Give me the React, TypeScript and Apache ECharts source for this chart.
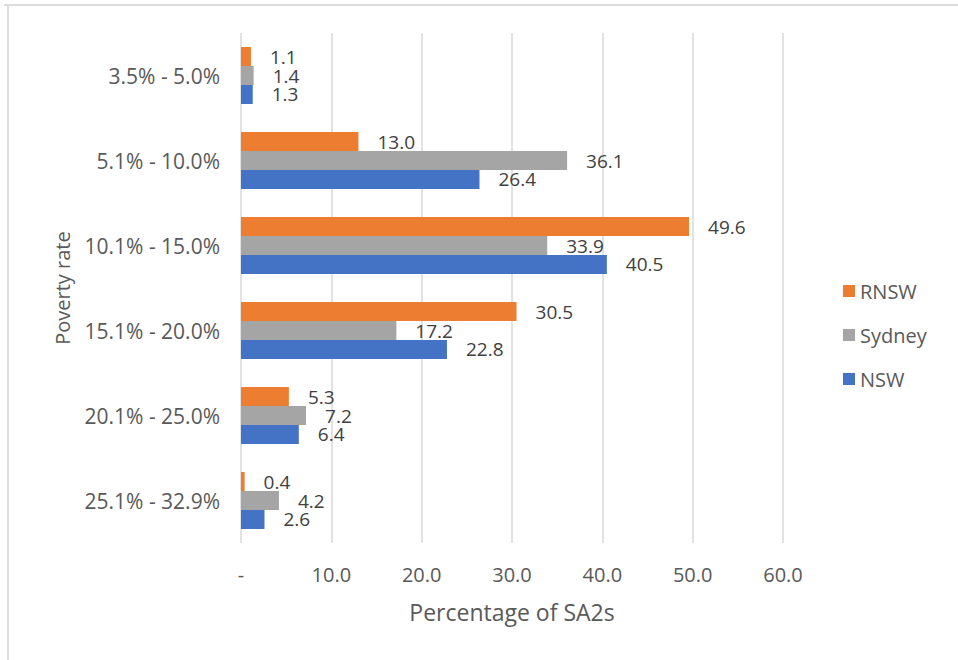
import React, { useEffect, useRef } from "react";
import * as echarts from "echarts";

const categories = ["3.5% - 5.0%", "5.1% - 10.0%", "10.1% - 15.0%", "15.1% - 20.0%", "20.1% - 25.0%", "25.1% - 32.9%"];
const rnsw = [1.1, 13.0, 49.6, 30.5, 5.3, 0.4];
const sydney = [1.4, 36.1, 33.9, 17.2, 7.2, 4.2];
const nsw = [1.3, 26.4, 40.5, 22.8, 6.4, 2.6];
const seriesNames = ["RNSW", "Sydney", "NSW"];
const colors = ["#ED7D31", "#A5A5A5", "#4472C4"];

const FONT = "'Open Sans', Lato, sans-serif";

export default function App() {
  const ref = useRef<HTMLDivElement>(null);
  useEffect(() => {
    const chart = echarts.init(ref.current!, null, { renderer: "svg" });
    const data = [rnsw, sydney, nsw];
    chart.setOption({
      animation: false,
      backgroundColor: "#ffffff",
      textStyle: { fontFamily: FONT },
      graphic: [
        { type: "line", shape: { x1: 4, y1: 5, x2: 958, y2: 5 }, style: { stroke: "#DCDCDC", lineWidth: 2 } },
        { type: "line", shape: { x1: 8, y1: 5, x2: 8, y2: 660 }, style: { stroke: "#DCDCDC", lineWidth: 2 } },
      ],
      grid: { left: 241, right: 175, top: 33, bottom: 117, containLabel: false },
      legend: {
        orient: "vertical",
        left: 838,
        top: 276,
        itemWidth: 12,
        itemHeight: 12,
        itemGap: 24,
        icon: "rect",
        data: seriesNames,
        textStyle: { fontSize: 20, color: "#595959", fontFamily: FONT },
      },
      xAxis: {
        type: "value",
        min: 0,
        max: 60,
        interval: 10,
        axisLine: { show: false },
        axisTick: { show: false },
        splitLine: { lineStyle: { color: "#D9D9D9", width: 1.5 } },
        axisLabel: {
          fontSize: 20,
          color: "#595959",
          margin: 21,
          formatter: (v: number) => (v === 0 ? "-" : v.toFixed(1)),
        },
        name: "Percentage of SA2s",
        nameLocation: "middle",
        nameGap: 57,
        nameTextStyle: { fontSize: 23, color: "#595959", fontFamily: FONT },
      },
      yAxis: {
        type: "category",
        data: categories,
        inverse: true,
        axisLine: { show: false },
        axisTick: { show: false },
        axisLabel: { fontSize: 21, color: "#595959", margin: 21 },
        name: "Poverty rate",
        nameLocation: "middle",
        nameRotate: 90,
        nameGap: 169,
        nameTextStyle: { fontSize: 20, color: "#595959", fontFamily: FONT },
      },
      series: seriesNames.map((name, i) => ({
        name,
        type: "bar",
        data: data[i],
        barGap: "0%",
        barCategoryGap: "33%",
        itemStyle: { color: colors[i] },
        label: {
          show: true,
          position: "right",
          distance: 19,
          fontSize: 19,
          lineHeight: 19,
          color: "#404040",
          fontFamily: FONT,
          formatter: (p: any) => Number(p.value).toFixed(1),
        },
      })),
    });
    return () => chart.dispose();
  }, []);
  return <div ref={ref} style={{ position: "fixed", left: 0, top: 0, width: 958, height: 660 }} />;
}
